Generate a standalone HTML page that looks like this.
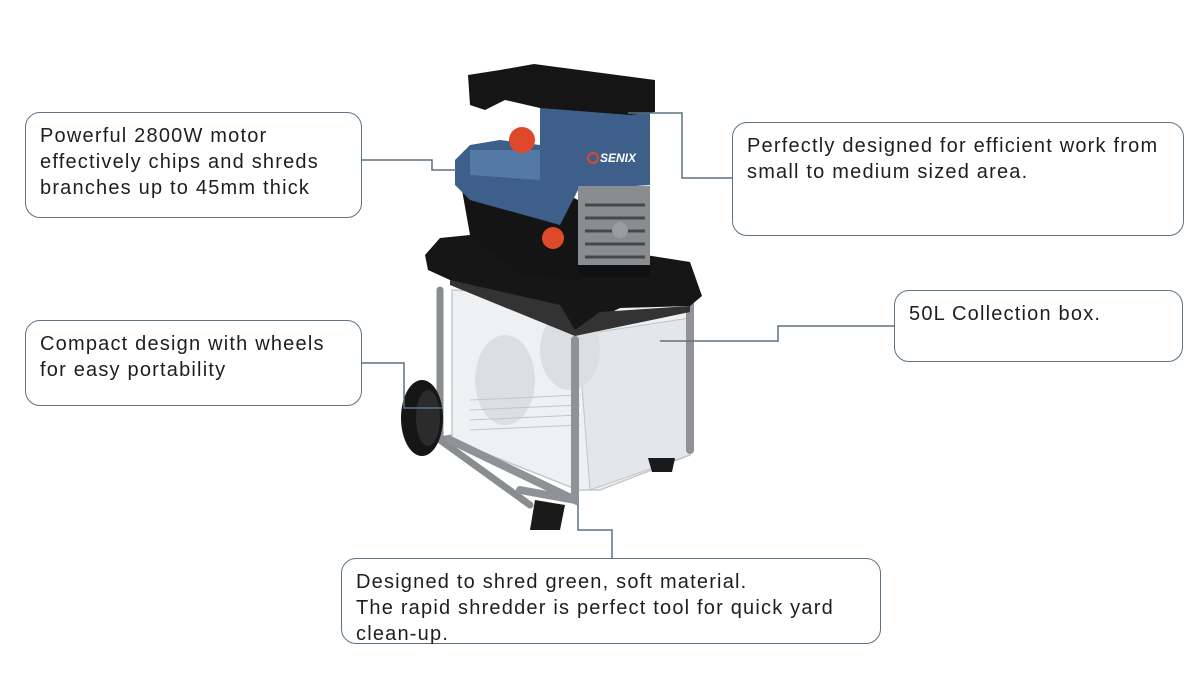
<!DOCTYPE html>
<html><head><meta charset="utf-8"><style>
body{margin:0;background:#fff;width:1200px;height:675px;position:relative;overflow:hidden;font-family:"Liberation Sans",sans-serif;}
.b{position:absolute;border:1.5px solid #5d7283;border-radius:15px;box-sizing:border-box;color:#1e1e1e;font-size:20px;letter-spacing:1.2px;line-height:26px;padding:10px 14px;white-space:nowrap;}
svg{position:absolute;left:0;top:0}
</style></head><body>
<svg width="1200" height="675">
<g stroke="#8a8d90" stroke-width="7" fill="none" stroke-linecap="round">
<path d="M440 290 L440 440 L530 505"/>
<path d="M690 300 L690 450 L665 462"/>
<path d="M440 440 L560 420 L660 455"/>
</g>
<polygon points="452,290 690,300 690,455 600,490 578,490 452,440" fill="#eef0f2" stroke="#c5c9cd" stroke-width="1.5"/>
<polygon points="578,335 690,318 690,455 590,490" fill="#e4e7ea" stroke="#c0c4c8"/>
<ellipse cx="505" cy="380" rx="30" ry="45" fill="#dcdfe2"/>
<ellipse cx="570" cy="350" rx="30" ry="40" fill="#dcdfe2"/>
<g stroke="#c3c6c9" stroke-width="1"><path d="M470 400 L580 395 M470 410 L580 405 M470 420 L580 415 M470 430 L580 425"/></g>
<g stroke="#8f9296" stroke-width="8" fill="none" stroke-linecap="round">
<path d="M575 340 L575 500 L450 440"/>
<path d="M690 300 L690 450"/>
<path d="M575 500 L520 490"/>
</g>
<polygon points="535,500 565,505 560,530 530,530" fill="#1a1a1a"/>
<polygon points="648,458 675,458 672,472 652,472" fill="#1a1a1a"/>
<ellipse cx="422" cy="418" rx="21" ry="38" fill="#161616"/>
<ellipse cx="428" cy="418" rx="12" ry="28" fill="#2b2b2b"/>
<polygon points="425,255 440,238 500,232 690,262 702,296 690,306 620,308 575,330 560,310 450,280 428,270" fill="#161616"/>
<polygon points="450,280 560,305 575,330 600,312 690,306 690,312 575,336 450,285" fill="#333"/>
<polygon points="462,190 540,180 578,200 578,280 520,275 470,235" fill="#141414"/>
<polygon points="455,160 470,145 500,140 540,145 540,105 650,108 650,185 578,190 560,225 470,200 455,185" fill="#3d5f8a"/>
<polygon points="470,150 540,150 540,180 470,175" fill="#5479a6"/>
<rect x="578" y="186" width="72" height="86" fill="#8a8d90"/>
<g stroke="#454849" stroke-width="3"><path d="M585 205 L645 205 M585 218 L645 218 M585 231 L645 231 M585 244 L645 244 M585 257 L645 257"/></g>
<circle cx="620" cy="230" r="8" fill="#9a9da0"/>
<rect x="578" y="265" width="72" height="12" fill="#111"/>
<polygon points="468,75 500,70 534,64 655,80 655,112 630,115 540,108 505,100 485,110 470,105" fill="#151515"/>
<circle cx="522" cy="140" r="13" fill="#e0482a"/>
<circle cx="553" cy="238" r="11" fill="#e0482a"/>
<text x="600" y="162" font-size="12" font-weight="bold" font-style="italic" fill="#fff" font-family="Liberation Sans,sans-serif">SENIX</text>
<circle cx="593" cy="158" r="5" fill="none" stroke="#e0482a" stroke-width="2"/>
<g stroke="#5d7283" stroke-width="1.5" fill="none">
<path d="M362 160 H432 V170 H456"/>
<path d="M628 113 H682 V178 H732"/>
<path d="M362 363 H404 V408 H443"/>
<path d="M660 341 H778 V326 H894"/>
<path d="M578 505 V530 H612 V558"/>
</g>
</svg>
<div class="b" style="left:25px;top:112px;width:337px;height:106px;">Powerful 2800W motor<br>effectively chips and shreds<br>branches up to 45mm thick</div>
<div class="b" style="left:732px;top:122px;width:452px;height:114px;">Perfectly designed for efficient work from<br>small to medium sized area.</div>
<div class="b" style="left:25px;top:320px;width:337px;height:86px;">Compact design with wheels<br>for easy portability</div>
<div class="b" style="left:894px;top:290px;width:289px;height:72px;">50L Collection box.</div>
<div class="b" style="left:341px;top:558px;width:540px;height:86px;">Designed to shred green, soft material.<br>The rapid shredder is perfect tool for quick yard<br>clean-up.</div>
</body></html>
